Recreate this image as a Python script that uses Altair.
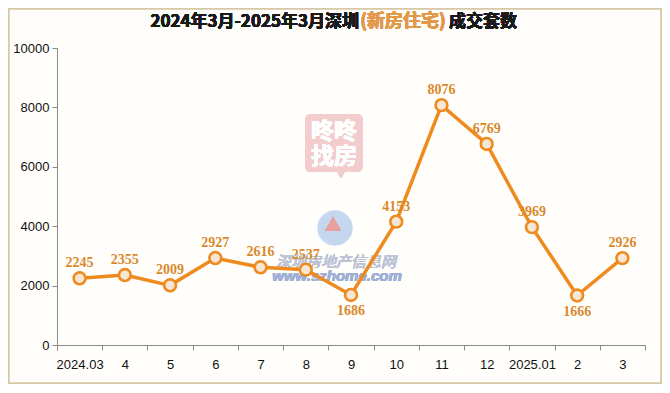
import altair as alt
import pandas as pd

months = ["2024.03", "4", "5", "6", "7", "8", "9", "10", "11", "12", "2025.01", "2", "3"]
values = [2245, 2355, 2009, 2927, 2616, 2537, 1686, 4153, 8076, 6769, 3969, 1666, 2926]
title_left = "2024年3月-2025年3月深圳"
title_mid = "(新房住宅)"
title_right = "成交套数"
wm_top = ["咚咚", "找房"]
wm_cn = "深圳房地产信息网"
wm_url = "www.szhome.com"

df = pd.DataFrame({"m": months, "v": values})

W, H = 588, 297
ORANGE = "#ee8a1e"
LABEL = "#d8892c"

xenc = alt.X("m:O", sort=months, bandPosition=0.5,
             scale=alt.Scale(type="band", paddingInner=0, paddingOuter=0),
             axis=alt.Axis(title=None, labelAngle=0, tickBand="extent", tickSize=5,
                           labelPadding=8, labelFontSize=13, labelColor="#111",
                           domainColor="#8a8a8a", tickColor="#8a8a8a",
                           labelFont="Liberation Sans", zindex=1))
yenc = alt.Y("v:Q", scale=alt.Scale(domain=[0, 10000], nice=False),
             axis=alt.Axis(title=None, values=[0, 2000, 4000, 6000, 8000, 10000],
                           format="d", grid=False, tickSize=5, labelPadding=3,
                           labelFontSize=13, labelColor="#111", domainColor="#8a8a8a",
                           tickColor="#8a8a8a", labelFont="Liberation Sans", zindex=1))

base = alt.Chart(df)

line = base.mark_line(color=ORANGE, strokeWidth=3.5).encode(x=xenc, y=yenc)
pts = base.mark_point(shape="circle", size=140, filled=True, fill="#f6e7d4",
                      stroke=ORANGE, strokeWidth=2.6, opacity=1).encode(x=xenc, y=yenc)
lab_up = base.transform_filter("datum.v >= 2000").mark_text(
    dy=-15, font="Liberation Serif", fontWeight="bold", fontSize=14, color=LABEL
).encode(x=xenc, y=yenc, text="v:Q")
lab_dn = base.transform_filter("datum.v < 2000").mark_text(
    dy=16, font="Liberation Serif", fontWeight="bold", fontSize=14, color=LABEL
).encode(x=xenc, y=yenc, text="v:Q")

frame = base.mark_rect(fill="#fffefb", stroke="#d8c8a6", strokeWidth=1.5).encode(
    x=alt.value(-48), x2=alt.value(W + 16), y=alt.value(-39), y2=alt.value(H + 38))

# faint watermark
wm_box = base.mark_rect(fill="#f3cdcd", cornerRadius=6).encode(
    x=alt.value(248), x2=alt.value(306), y=alt.value(66), y2=alt.value(124))
wm_ptr = base.mark_point(shape="triangle-down", filled=True, size=60, fill="#f3cdcd",
                         opacity=1).encode(x=alt.value(284), y=alt.value(127))
wm_t1 = base.mark_text(text=wm_top[0], font="Noto Sans CJK SC", fontSize=23,
                       fontWeight="bold", color="#ffffff").encode(
    x=alt.value(277), y=alt.value(84))
wm_t2 = base.mark_text(text=wm_top[1], font="Noto Sans CJK SC", fontSize=23,
                       fontWeight="bold", color="#ffffff").encode(
    x=alt.value(277), y=alt.value(109))
wm_circ = base.mark_point(shape="circle", filled=True, size=1400, fill="#c4d7ef",
                          stroke="#ffffff", strokeWidth=2, opacity=0.8).encode(
    x=alt.value(278), y=alt.value(180))
wm_house = base.mark_point(shape="triangle-up", filled=True, size=260, fill="#e8a0a0",
                           opacity=0.8).encode(x=alt.value(276), y=alt.value(176))
wm_cn_t = base.mark_text(text=wm_cn, font="Noto Sans CJK SC", fontSize=15,
                         fontStyle="italic", color="#bcc4d6", opacity=0.75).encode(
    x=alt.value(279), y=alt.value(214))
wm_url_t = base.mark_text(text=wm_url, font="Liberation Sans", fontSize=15,
                          fontStyle="italic", fontWeight="bold", color="#9fb0d6",
                          opacity=0.75).encode(x=alt.value(280), y=alt.value(228))

tfont = "Noto Sans CJK SC"
t1 = base.mark_text(text=title_left, font=tfont, fontSize=17, fontWeight="bold",
                    color="#1a1a1a", align="right", baseline="middle").encode(
    x=alt.value(302), y=alt.value(-26))
t2 = base.mark_text(text=title_mid, font=tfont, fontSize=18, fontWeight="bold",
                    color="#e39a48", align="center", baseline="middle").encode(
    x=alt.value(346), y=alt.value(-26))
t3 = base.mark_text(text=title_right, font=tfont, fontSize=17, fontWeight="bold",
                    color="#1a1a1a", align="left", baseline="middle").encode(
    x=alt.value(392), y=alt.value(-26))

chart = alt.layer(frame, wm_box, wm_ptr, wm_t1, wm_t2, wm_circ, wm_house, wm_cn_t,
                  wm_url_t, t1, t2, t3, line, pts, lab_up, lab_dn).properties(
    width=W, height=H, autosize="none",
    padding={"left": 49, "top": 40, "right": 17, "bottom": 40},
    background="#ffffff",
).configure_view(stroke=None)

chart.save("out.html", embed_options={"renderer": "svg", "actions": False})
